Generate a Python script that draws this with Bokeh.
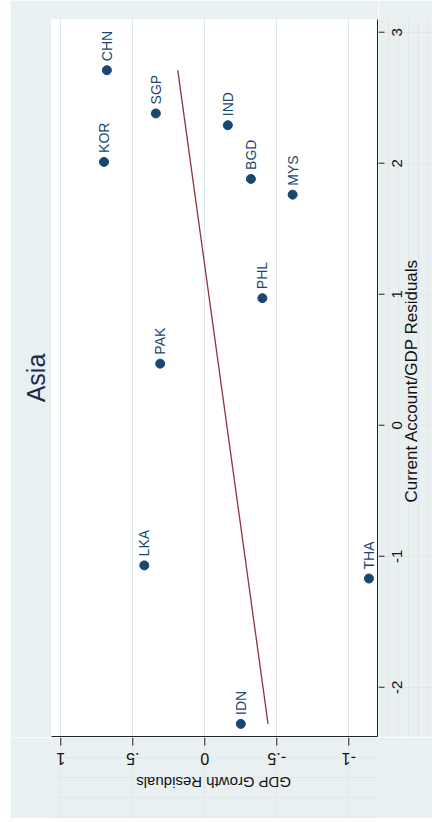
import math
import numpy as np
from bokeh.plotting import figure
from bokeh.layouts import row, column
from bokeh.models import Range1d, FixedTicker, Title, ColumnDataSource
from bokeh.core.properties import value
from bokeh.embed import file_html
from bokeh.resources import INLINE

# Asian economies: residualised current account / GDP vs residualised GDP growth
countries = ["CHN", "SGP", "KOR", "IND", "BGD", "MYS", "PHL", "PAK", "LKA", "THA", "IDN"]
ca_resid = [2.71, 2.38, 2.01, 2.29, 1.88, 1.76, 0.97, 0.47, -1.07, -1.17, -2.28]
growth_resid = [0.68, 0.34, 0.70, -0.16, -0.32, -0.61, -0.40, 0.31, 0.42, -1.14, -0.25]

growth_ticks = [1, 0.5, 0, -0.5, -1]
growth_tick_labels = ["1", ".5", "0", "-.5", "-1"]
ca_ticks = [-2, -1, 0, 1, 2, 3]
ca_tick_labels = ["-2", "-1", "0", "1", "2", "3"]

BG = "#E8F0F2"
GRID = "#DDE8EB"
NAVY = "#1A476F"
MAROON = "#90353B"
INK = "#111111"
AXIS = "#222222"
FONT = "Liberation Sans"

x_range = Range1d(1.0646, -1.1993)   # growth residuals, drawn right-to-left
y_range = Range1d(-2.376, 3.097)     # current account residuals


def strip(width, height, xr, yr, **borders):
    """Plain panel sharing one of the scatter's scales; holds ticks and rotated axis text."""
    return figure(width=width, height=height, x_range=xr, y_range=yr,
                  x_axis_location=None, y_axis_location=None,
                  output_backend="svg", toolbar_location=None,
                  background_fill_color=BG, border_fill_color=BG,
                  outline_line_color=None, **borders)


# ---- scatter panel -------------------------------------------------------
p = figure(
    width=368, height=737, x_range=x_range, y_range=y_range,
    x_axis_location="below", y_axis_location="right",
    output_backend="svg", toolbar_location=None,
    min_border_left=41, min_border_right=1,
    min_border_top=19, min_border_bottom=1,
    background_fill_color="white", border_fill_color=BG,
    outline_line_color=None,
)

# axis lines only; tick marks and labels sit in the neighbouring strips
for ax in (p.xaxis[0], p.yaxis[0]):
    ax.ticker = FixedTicker(ticks=[])
    ax.major_tick_out = 0
    ax.major_tick_in = 0
    ax.minor_tick_line_color = None
    ax.major_label_standoff = 0
    ax.axis_line_color = AXIS

p.xgrid.ticker = FixedTicker(ticks=growth_ticks)
p.xgrid.grid_line_color = GRID
p.xgrid.grid_line_width = 1
p.ygrid.visible = False

src = ColumnDataSource(dict(name=countries, c=ca_resid, g=growth_resid))

# least-squares fit of growth residuals on current account residuals
slope, intercept = np.polyfit(ca_resid, growth_resid, 1)
c_end = np.array([min(ca_resid), max(ca_resid)])
p.line(intercept + slope * c_end, c_end, line_color=MAROON, line_width=1.3)

p.scatter(x="g", y="c", source=src, size=9, color=NAVY)
p.text(x="g", y="c", text="name", source=src, angle=math.pi / 2,
       text_align="left", text_baseline="middle", y_offset=-9,
       text_font=value(FONT), text_font_size="14px", text_color=NAVY)

p.add_layout(Title(text="Asia", align="center", text_font=FONT,
                   text_font_size="25px", text_font_style="normal",
                   text_color="#1E2A4A", standoff=4), "left")

# ---- right strip: current account ticks, tick labels and title -----------
r = strip(54, 737, Range1d(0, 54), y_range,
          min_border_left=0, min_border_right=0,
          min_border_top=19, min_border_bottom=1)
r.segment(x0=[0] * len(ca_ticks), y0=ca_ticks, x1=[6] * len(ca_ticks), y1=ca_ticks,
          line_color=AXIS, line_width=1)
r.text(x=[18.5] * len(ca_ticks), y=ca_ticks, text=ca_tick_labels,
       angle=math.pi / 2, text_align="center", text_baseline="middle",
       text_font=value(FONT), text_font_size="15px", text_color=INK)
r.text(x=[33], y=[0.341], text=["Current Account/GDP Residuals"],
       angle=math.pi / 2, text_align="center", text_baseline="middle",
       text_font=value(FONT), text_font_size="17px", text_color=INK)

# ---- bottom strip: growth ticks, tick labels and title (upside down) -----
b = strip(422, 81, x_range, Range1d(81, 0),
          min_border_left=41, min_border_right=55,
          min_border_top=0, min_border_bottom=0)
b.segment(x0=growth_ticks, y0=[0] * len(growth_ticks), x1=growth_ticks,
          y1=[8] * len(growth_ticks), line_color=AXIS, line_width=1)
b.text(x=growth_ticks, y=[21.5] * len(growth_ticks), text=growth_tick_labels,
       angle=math.pi, text_align="center", text_baseline="middle",
       text_font=value(FONT), text_font_size="16px", text_color=INK)
b.text(x=[-0.06], y=[45], text=["GDP Growth Residuals"],
       angle=math.pi, text_align="center", text_baseline="middle",
       text_font=value(FONT), text_font_size="15px", text_color=INK)

layout = column(row(p, r), b, margin=(0, 0, 0, 10))

open("out.html", "w").write(file_html(layout, INLINE))
